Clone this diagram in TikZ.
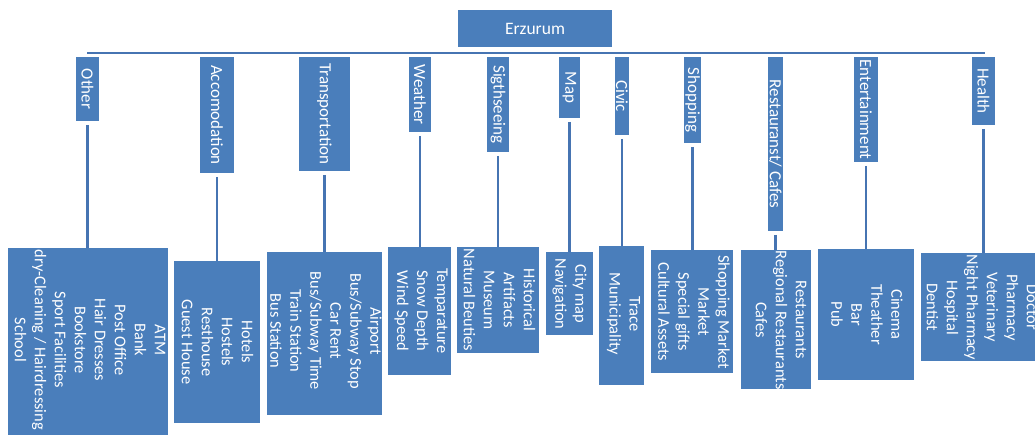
\documentclass[tikz,border=0pt]{standalone}
\usepackage{fontspec}
\setmainfont{Carlito}
\definecolor{boxblue}{HTML}{4A7EBB}
\definecolor{lineblue}{HTML}{4674B2}
\tikzset{
  box/.style={fill=boxblue, draw=none, inner sep=0pt, outer sep=0pt},
  cattxt/.style={text=white, rotate=-90, inner sep=0pt, font=\fontsize{17}{20}\selectfont},
  leaftxt/.style={text=white, rotate=-90, inner sep=0pt, align=center, font=\fontsize{16.4}{20}\selectfont},
  conn/.style={draw=lineblue, line width=2.5pt},
}
\begin{document}
\begin{tikzpicture}[x=1pt,y=-1pt]
\useasboundingbox (0,0) rectangle (1035,435);
\clip (0,0) rectangle (1035,435);
% root
\node[box, minimum width=154pt, minimum height=37pt] (root) at (535,28.5) {};
\node[text=white, inner sep=0pt, font=\fontsize{17.5}{20}\selectfont] (rootT) at (root.center) {Erzurum};
% categories
\node[box, minimum width=23pt, minimum height=64pt]  (c1)  at (87.5,89) {};
\node[box, minimum width=34pt, minimum height=116pt] (c2)  at (217,115) {};
\node[box, minimum width=51pt, minimum height=114pt] (c3)  at (324.5,114) {};
\node[box, minimum width=22pt, minimum height=75pt]  (c4)  at (420,94.5) {};
\node[box, minimum width=22pt, minimum height=95pt]  (c5)  at (498,104.5) {};
\node[box, minimum width=21pt, minimum height=61pt]  (c6)  at (569.5,87.5) {};
\node[box, minimum width=14pt, minimum height=78pt]  (c7)  at (622,96) {};
\node[box, minimum width=17pt, minimum height=86pt]  (c8)  at (692.5,100) {};
\node[box, minimum width=15pt, minimum height=174pt] (c9)  at (775.5,144) {};
\node[box, minimum width=24pt, minimum height=105pt] (c10) at (866,109.5) {};
\node[box, minimum width=23pt, minimum height=68pt]  (c11) at (983.5,91) {};
\node[cattxt] (t1)  at (c1.center)  {Other};
\node[cattxt] (t2)  at (c2.center)  {Accomodation};
\node[cattxt] (t3)  at (c3.center)  {Transportation};
\node[cattxt] (t4)  at (c4.center)  {Weather};
\node[cattxt] (t5)  at (c5.center)  {Sigthseeing};
\node[cattxt] (t6)  at (c6.center)  {Map};
\node[cattxt] (t7)  at (c7.center)  {Civic};
\node[cattxt] (t8)  at (c8.center)  {Shopping};
\node[cattxt] (t9)  at (c9.center)  {Restauranst/ Cafes};
\node[cattxt] (t10) at (c10.center) {Entertainment};
\node[cattxt] (t11) at (c11.center) {Health};
% bar
\coordinate (barL) at (87,53);
\coordinate (barR) at (985,53);
\draw[conn] (barL) -- (barR);
% leaves
\node[box, minimum width=160pt, minimum height=192pt] (l1)  at (88,344) {};
\node[box, minimum width=86pt,  minimum height=162pt] (l2)  at (217,342) {};
\node[box, minimum width=115pt, minimum height=163pt] (l3)  at (324.5,333.5) {};
\node[box, minimum width=63pt,  minimum height=128pt] (l4)  at (419.5,311) {};
\node[box, minimum width=82pt,  minimum height=106pt] (l5)  at (498,300) {};
\node[box, minimum width=47pt,  minimum height=83pt]  (l6)  at (569.5,293.5) {};
\node[box, minimum width=45pt,  minimum height=139pt] (l7)  at (621.5,315.5) {};
\node[box, minimum width=82pt,  minimum height=123pt] (l8)  at (692,311.5) {};
\node[box, minimum width=70pt,  minimum height=139pt] (l9)  at (776,319.5) {};
\node[box, minimum width=96pt,  minimum height=131pt] (l10) at (866,314.5) {};
\node[box, minimum width=124pt, minimum height=108pt] (l11) at (983,307) {};
\node[leaftxt] (u1)  at (90,340)    {ATM\\Bank\\Post Office\\Hair Dresses\\Bookstore\\Sport Facilities\\dry-Cleaning / Hairdressing\\School};
\node[leaftxt] (u2)  at (217.5,342) {Hotels\\Hostels\\Resthouse\\Guest House};
\node[leaftxt] (u3)  at (326,331)   {Airport\\Bus/Subway Stop\\Car Rent\\Bus/Subway Time\\Train Station\\Bus Station};
\node[leaftxt] (u4)  at (421,311)   {Temparature\\Snow Depth\\Wind Speed};
\node[leaftxt] (u5)  at (499.5,300) {Historical\\Artifacts\\Museum\\Natural Beuties};
\node[leaftxt] (u6)  at (569.5,294) {City map\\Navigation};
\node[leaftxt] (u7)  at (623.5,314) {Trace\\Municipality};
\node[leaftxt] (u8)  at (694,312)   {Shopping Market\\Market\\Special gifts\\Cultural Assets};
\node[leaftxt] (u9)  at (781,320)   {Restaurants\\Regional Restaurants\\Cafes};
\node[leaftxt] (u10) at (867,314.5) {Cinema\\Theather\\Bar\\Pub};
\node[leaftxt] (u11) at (982,307.5) {Doctor\\Pharmacy\\Veterinary\\Night Pharmacy\\Hospital\\Dentist};
% connectors
\foreach \i in {1,...,11}{
  \draw[conn] ([yshift=-4pt]c\i.south) -- (c\i.south |- l\i.north);
}
\end{tikzpicture}
\end{document}
